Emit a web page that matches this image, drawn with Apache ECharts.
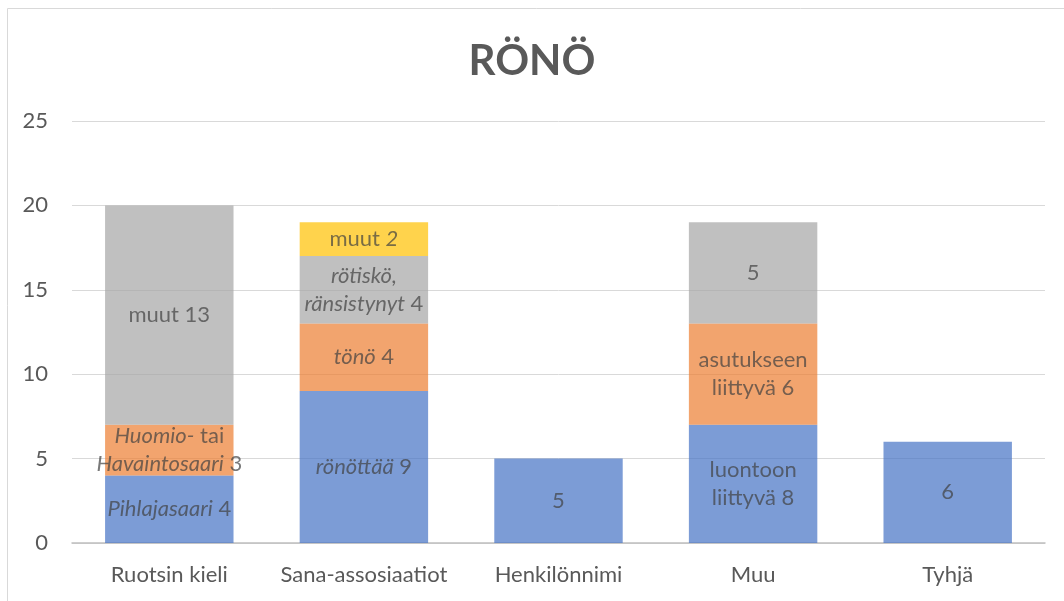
<!DOCTYPE html>
<html>
<head>
<meta charset="utf-8">
<script src="https://cdn.jsdelivr.net/npm/echarts@6/dist/echarts.min.js"></script>
<style>
  html, body { margin: 0; padding: 0; background: #fff; }
  #chart { width: 1064px; height: 601px; }
</style>
</head>
<body>
<div id="chart"></div>
<script>
// luokat ja arvot
var categories = ['Ruotsin kieli', 'Sana-assosiaatiot', 'Henkilönnimi', 'Muu', 'Tyhjä']
var blueValues = [4, 9, 5, 7, 6]
var orangeValues = [3, 4, null, 6, null]
var grayValues = [13, 4, null, 6, null]
var yellowValues = [null, 2, null, null, null]
var yTicks = [0, 5, 10, 15, 20, 25]

// segmenttien tekstit ({i|...} = kursiivi)
var blueLabels = ['{i|Pihlajasaari} 4', '{i|rönöttää} 9', '5', 'luontoon\nliittyvä 8', '6']
var orangeLabels = ['{i|Huomio-} tai\n{i|Havaintosaari} 3', '{i|tönö} 4', '', 'asutukseen\nliittyvä 6', '']
var grayLabels = ['muut 13', '{i|rötiskö,}\n{i|ränsistynyt} 4', '', '5', '']
var yellowLabels = ['', 'muut {i|2}', '', '', '']

var FONT = 'Lato'

function makeLabel (texts) {
  return {
    show: true,
    position: 'inside',
    color: '#404040',
    fontFamily: FONT,
    fontSize: 22,
    lineHeight: 28,
    formatter: function (p) { return texts[p.dataIndex] },
    rich: {
      i: { fontStyle: 'italic', color: '#404040', fontFamily: FONT, fontSize: 22, lineHeight: 28 }
    }
  }
}

function makeSeries (name, values, texts, color) {
  return {
    name: name,
    type: 'bar',
    stack: 'total',
    barWidth: '66%',
    data: values,
    itemStyle: { color: color, opacity: 0.7 },
    label: makeLabel(texts),
    emphasis: { disabled: true }
  }
}

var myChart = echarts.init(document.getElementById('chart'))

var option = {
  animation: false,
  title: {
    text: 'RÖNÖ',
    left: 'center',
    top: 35,
    textStyle: { fontFamily: FONT, fontWeight: 'bold', fontSize: 42, color: '#595959' }
  },
  graphic: [{
    type: 'rect',
    shape: { x: 7.5, y: 8.5, width: 1200, height: 800 },
    style: { fill: 'none', stroke: '#d9d9d9', lineWidth: 1 },
    z: -1
  }],
  grid: { left: 72, right: 19, top: 121, bottom: 58 },
  xAxis: {
    type: 'category',
    data: categories,
    axisTick: { show: false },
    axisLine: { lineStyle: { color: '#bfbfbf', width: 1.5 } },
    axisLabel: { color: '#595959', fontFamily: FONT, fontSize: 22, margin: 21, interval: 0 }
  },
  yAxis: {
    type: 'value',
    min: yTicks[0],
    max: yTicks[yTicks.length - 1],
    interval: 5,
    axisLine: { show: false },
    axisTick: { show: false },
    splitLine: { lineStyle: { color: '#d9d9d9', width: 1 } },
    axisLabel: { color: '#595959', fontFamily: FONT, fontSize: 22, margin: 24 }
  },
  series: [
    makeSeries('sininen', blueValues, blueLabels, '#4472C4'),
    makeSeries('oranssi', orangeValues, orangeLabels, '#ED7D31'),
    makeSeries('harmaa', grayValues, grayLabels, '#A5A5A5'),
    makeSeries('keltainen', yellowValues, yellowLabels, '#FFC000')
  ]
}
myChart.setOption(option)
</script>
</body>
</html>
